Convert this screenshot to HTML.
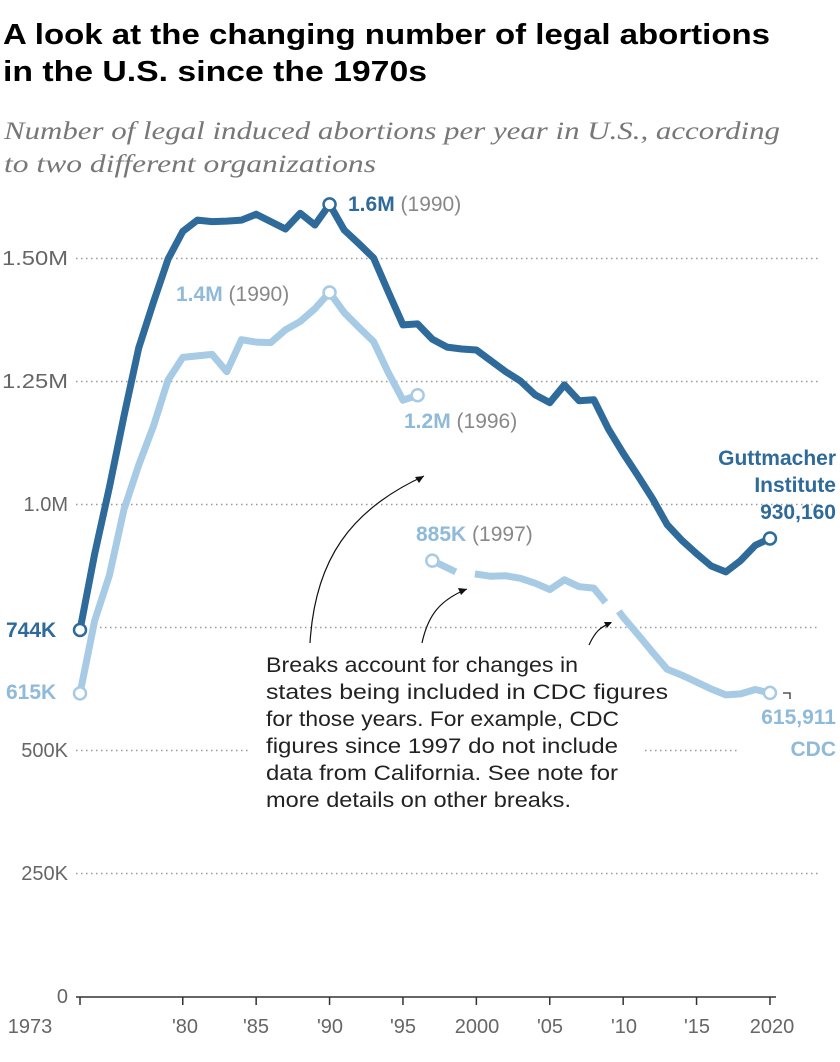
<!DOCTYPE html>
<html><head><meta charset="utf-8"><style>
body{margin:0;background:#fff;width:840px;height:1062px;overflow:hidden}
svg{display:block}
.t{font-family:"Liberation Sans",sans-serif;font-weight:bold;font-size:29px;fill:#000}
.s{font-family:"Liberation Serif",serif;font-style:italic;font-size:25px;fill:#777}
.ax{font-family:"Liberation Sans",sans-serif;font-size:20px;fill:#666}
.lb{font-family:"Liberation Sans",sans-serif;font-size:21px;font-weight:bold}
.gy{font-family:"Liberation Sans",sans-serif;font-size:21px;fill:#888;font-weight:normal}
.nt{font-family:"Liberation Sans",sans-serif;font-size:21px;fill:#222}
</style></head><body>
<svg id="c" width="840" height="1062" viewBox="0 0 840 1062">
<text class="t" x="3" y="44" textLength="767" lengthAdjust="spacingAndGlyphs">A look at the changing number of legal abortions</text>
<text class="t" x="3" y="81" textLength="424" lengthAdjust="spacingAndGlyphs">in the U.S. since the 1970s</text>
<text class="s" x="4" y="139" textLength="776" lengthAdjust="spacingAndGlyphs">Number of legal induced abortions per year in U.S., according</text>
<text class="s" x="4" y="172" textLength="372" lengthAdjust="spacingAndGlyphs">to two different organizations</text>
<g stroke="#999" stroke-width="1.5" stroke-dasharray="1.5,3.5">
<line x1="76" x2="820" y1="258.5" y2="258.5"/>
<line x1="76" x2="820" y1="381.5" y2="381.5"/>
<line x1="76" x2="820" y1="504.5" y2="504.5"/>
<line x1="100" x2="820" y1="627.5" y2="627.5"/>
<line x1="76" x2="250" y1="750.5" y2="750.5"/>
<line x1="640" x2="740" y1="750.5" y2="750.5"/>
<line x1="76" x2="820" y1="873.5" y2="873.5"/>
</g>
<line x1="76" x2="776" y1="997" y2="997" stroke="#333" stroke-width="1.5"/>
<g class="ax" text-anchor="end">
<text x="68" y="265" textLength="66" lengthAdjust="spacingAndGlyphs">1.50M</text><text x="68" y="388" textLength="66" lengthAdjust="spacingAndGlyphs">1.25M</text><text x="68" y="511">1.0M</text>
<text x="68" y="757">500K</text><text x="68" y="880">250K</text><text x="68" y="1003">0</text>
</g>
<g stroke="#333" stroke-width="1.5" id="tk"></g>
<g class="ax" text-anchor="middle">
<text x="30" y="1033">1973</text><text x="185" y="1033">'80</text><text x="256" y="1033">'85</text>
<text x="330" y="1033">'90</text><text x="403" y="1033">'95</text><text x="477" y="1033">2000</text>
<text x="550" y="1033">'05</text><text x="624" y="1033">'10</text><text x="697" y="1033">'15</text><text x="772" y="1033">2020</text>
</g>
<g id="lines" fill="none" stroke-linejoin="round" stroke-width="7"></g>
<g fill="#fff" stroke-width="2.5">
<circle id="g73" r="6" stroke="#2e6a9a"/><circle id="g90" r="6" stroke="#2e6a9a"/><circle id="g20" r="6" stroke="#2e6a9a"/>
<circle id="c73" r="6" stroke="#a7cbe4"/><circle id="c90" r="6" stroke="#a7cbe4"/><circle id="c96" r="6" stroke="#a7cbe4"/><circle id="c97" r="6" stroke="#a7cbe4"/><circle id="c20" r="6" stroke="#a7cbe4"/>
</g>
<text class="lb" x="348" y="211" fill="#2e6a9a">1.6M <tspan class="gy">(1990)</tspan></text>
<text class="lb" x="176" y="301" fill="#8fbad9">1.4M <tspan class="gy">(1990)</tspan></text>
<text class="lb" x="404" y="428" fill="#8fbad9">1.2M <tspan class="gy">(1996)</tspan></text>
<text class="lb" x="416" y="541" fill="#8fbad9">885K <tspan class="gy">(1997)</tspan></text>
<text class="lb" x="6" y="637" fill="#2e6a9a">744K</text>
<text class="lb" x="6" y="699" fill="#8fbad9">615K</text>
<g class="lb" fill="#2e6a9a" text-anchor="end"><text x="836" y="465">Guttmacher</text><text x="836" y="492">Institute</text><text x="836" y="519">930,160</text></g>
<g class="lb" fill="#8fbad9" text-anchor="end"><text x="836" y="724">615,911</text><text x="836" y="756">CDC</text></g>
<path d="M783 693 H790 V699" stroke="#333" stroke-width="1.3" fill="none"/>
<rect x="262" y="650" width="380" height="145" fill="#fff"/>
<g class="nt"><text x="266" y="672" textLength="312" lengthAdjust="spacingAndGlyphs">Breaks account for changes in</text><text x="266" y="699" textLength="402" lengthAdjust="spacingAndGlyphs">states being included in CDC figures</text>
<text x="266" y="726" textLength="353" lengthAdjust="spacingAndGlyphs">for those years. For example, CDC</text><text x="266" y="753" textLength="352" lengthAdjust="spacingAndGlyphs">figures since 1997 do not include</text>
<text x="266" y="780" textLength="352" lengthAdjust="spacingAndGlyphs">data from California. See note for</text><text x="266" y="807" textLength="305" lengthAdjust="spacingAndGlyphs">more details on other breaks.</text></g>
<g stroke="#111" stroke-width="1.2" fill="none">
<path d="M310 643 C 315 560 350 510 424 476"/>
<path d="M422 643 C 428 615 440 600 467 589"/>
<path d="M589 645 C 595 632 600 627 611 623"/>
</g>
<g fill="#111"><path d="M424 476 l-9 1 l4 6z"/><path d="M467 589 l-9 -1 l3 7z"/><path d="M612 622 l-8 0 l3 6z"/></g>
</svg>
<script>
var X=y=>80+(y-1973)*14.68, Y=v=>996-v*0.492;
var G=[744,899,1034,1179,1317,1410,1498,1554,1577,1574,1575,1577,1589,1574,1559,1591,1567,1609,1557,1529,1500,1431,1364,1366,1335,1319,1315,1313,1291,1269,1250,1222,1206,1242,1210,1212,1152,1103,1058,1011,958,926,899,874,862,885,916,930];
var C1=[615,763,855,989,1079,1158,1252,1298,1301,1304,1269,1334,1329,1328,1354,1371,1397,1430,1389,1359,1330,1267,1211,1221];
function pl(pts,col){var s=pts.map(p=>X(p[0]).toFixed(1)+","+Y(p[1]).toFixed(1)).join(" ");
 document.getElementById("lines").insertAdjacentHTML("beforeend",'<polyline stroke="'+col+'" points="'+s+'"/>');}
var dk="#2e6a9a",lt="#a7cbe4";
pl(C1.map((v,i)=>[1973+i,v]),lt);
pl([[1997,885],[1998.6,862]],lt);
pl([[1999.9,858],[2001,853],[2002,854],[2003,849],[2004,839],[2005,826],[2006,846],[2007,832],[2008,829],[2008.8,800]],lt);
pl([[2009.7,782],[2010,770],[2011,735],[2012,699],[2013,664],[2014,652],[2015,638],[2016,624],[2017,612],[2018,614],[2019,623],[2020,616]],lt);
pl(G.map((v,i)=>[1973+i,v]),dk);
function c(id,yr,v){var e=document.getElementById(id);e.setAttribute("cx",X(yr));e.setAttribute("cy",Y(v));}
c("g73",1973,744);c("g90",1990,1609);c("g20",2020,930);c("c73",1973,615);c("c90",1990,1430);c("c96",1996,1221);c("c97",1997,885);c("c20",2020,616);
var t=document.getElementById("tk");[1973,1980,1985,1990,1995,2000,2005,2010,2015,2020].forEach(y=>t.insertAdjacentHTML("beforeend",'<line x1="'+X(y)+'" x2="'+X(y)+'" y1="997" y2="1005"/>'));
</script>
</body></html>
